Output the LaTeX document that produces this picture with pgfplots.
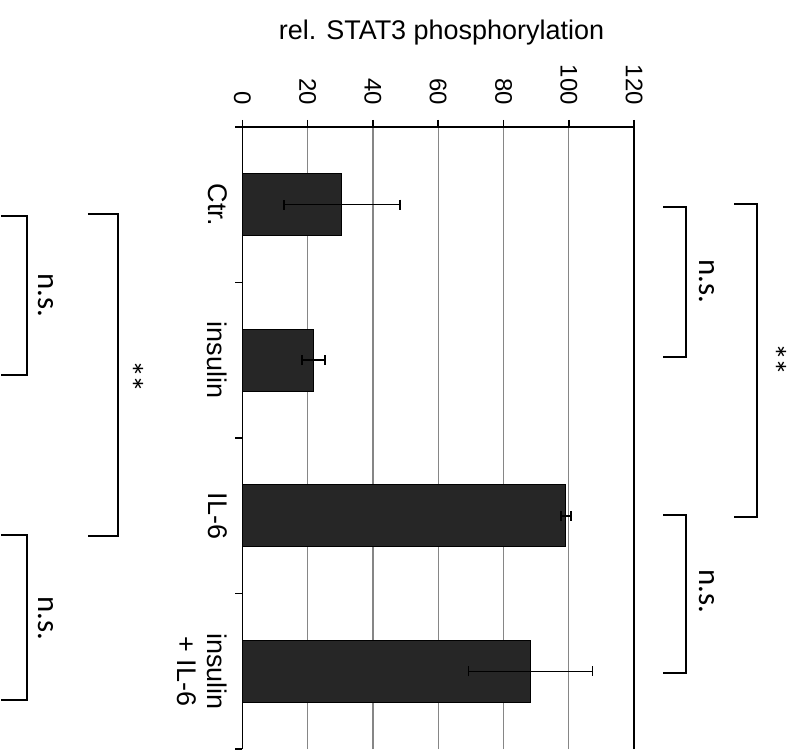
\documentclass[border=0pt]{standalone}
\usepackage{fontspec}
\setmainfont{Liberation Sans}
\newfontfamily\sigfont{Carlito}
\usepackage{pgfplots}
\pgfplotsset{compat=1.18}
\definecolor{barfill}{RGB}{38,38,38}
\definecolor{gridgray}{RGB}{134,134,134}

\begin{document}
\begin{tikzpicture}
\begin{axis}[
    scale only axis,
    width=196.15pt, height=311.5pt,
    xmin=0, xmax=120,
    ymin=-0.5, ymax=3.5,
    axis x line*=top,
    axis y line*=left,
    axis line style={line width=0.8pt},
    tick align=outside,
    major tick length=3.5pt,
    tick style={black, line width=0.8pt},
    xtick={0,20,...,120},
    xmajorgrids,
    grid style={gridgray, line width=0.6pt},
    /pgf/number format/assume math mode=true,
    xticklabel style={rotate=-90, anchor=east, font=\fontsize{12}{14}\selectfont},
    xticklabel shift=4pt,
    ytick={-0.5,0.5,1.5,2.5,3.5},
    yticklabels={},
    extra y ticks={0,1,2,3},
    extra y tick labels={{insulin\\+ IL-6},IL-6,insulin,Ctr.},
    extra y tick style={major tick length=0pt,
        yticklabel style={rotate=-90, anchor=north, align=center,
            font=\fontsize{13.5}{15}\selectfont}},
    yticklabel shift=4pt,
    clip=false,
]
% bounding box in pixel-matched axis units
\path (axis cs:-73.9,-0.519) rectangle (axis cs:173.85,4.3154);

\addplot[xbar, bar width=0.4, fill=barfill, draw=black, line width=0.5pt,
    error bars/.cd, x dir=both, x explicit,
    error bar style={black, line width=0.8pt},
    error mark options={black, line width=0.8pt, mark size=2.5pt, rotate=90}]
    coordinates {
    (30.5,3) +- (17.7,0)
    (21.8,2) +- (3.5,0)
    (99.1,1) +- (1.5,0)
    (88.3,0) +- (19.0,0)
};

\draw[black, line width=0.8pt] (axis cs:120,-0.5) -- (axis cs:120,3.5);

\node[font=\fontsize{13.5}{15}\selectfont] at (axis cs:61,4.1035) {rel. STAT3 phosphorylation};

% brackets, right side
\draw[line width=1pt] (axis cs:128.9,2.984) -- (axis cs:135.9,2.984) -- (axis cs:135.9,2.019) -- (axis cs:128.9,2.019);
\draw[line width=1pt] (axis cs:150.6,3.006) -- (axis cs:157.6,3.006) -- (axis cs:157.6,0.992) -- (axis cs:150.6,0.992);
\draw[line width=1pt] (axis cs:128.9,1.003) -- (axis cs:135.9,1.003) -- (axis cs:135.9,-0.008) -- (axis cs:128.9,-0.008);
\node[rotate=-90, font=\sigfont\fontsize{15.5}{17}\selectfont] at (axis cs:142.3,2.507) {n.s.};
\node[rotate=-90, font=\sigfont\fontsize{15.5}{17}\selectfont] at (axis cs:142.3,0.516) {n.s.};
\node[rotate=-90, font=\sigfont\fontsize{17}{19}\selectfont] at (axis cs:163.1,2.004) {*\kern-0.05em*};

% brackets, left side
\draw[line width=1pt] (axis cs:-73.9,2.924) -- (axis cs:-66.0,2.924) -- (axis cs:-66.0,1.903) -- (axis cs:-73.9,1.903);
\draw[line width=1pt] (axis cs:-47.3,2.939) -- (axis cs:-38.1,2.939) -- (axis cs:-38.1,0.868) -- (axis cs:-47.3,0.868);
\draw[line width=1pt] (axis cs:-73.9,0.874) -- (axis cs:-66.0,0.874) -- (axis cs:-66.0,-0.185) -- (axis cs:-73.9,-0.185);
\node[rotate=-90, font=\sigfont\fontsize{15.5}{17}\selectfont] at (axis cs:-60.2,2.415) {n.s.};
\node[rotate=-90, font=\sigfont\fontsize{15.5}{17}\selectfont] at (axis cs:-60.2,0.341) {n.s.};
\node[rotate=-90, font=\sigfont\fontsize{17}{19}\selectfont] at (axis cs:-33.9,1.895) {*\kern-0.05em*};
\end{axis}
\end{tikzpicture}
\end{document}
